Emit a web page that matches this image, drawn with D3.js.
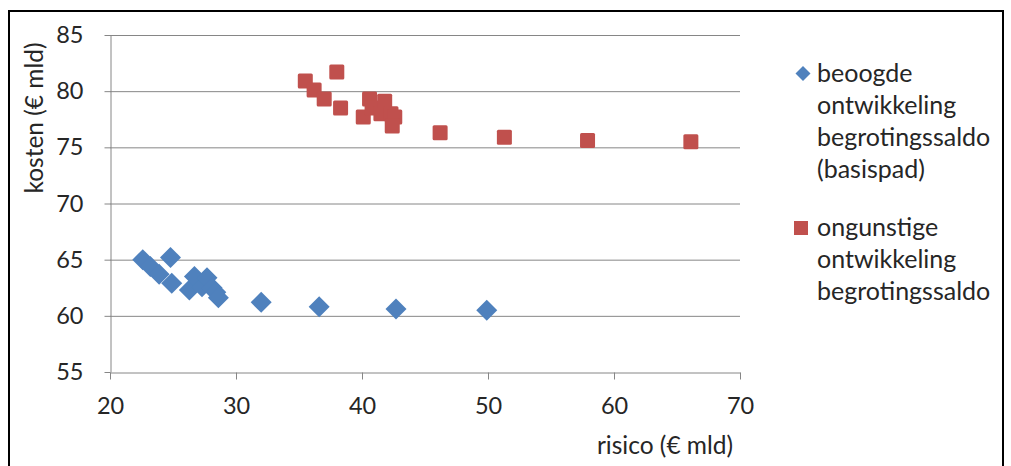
<!DOCTYPE html>
<html>
<head>
<meta charset="utf-8">
<script src="https://cdn.jsdelivr.net/npm/d3@7"></script>
<style>
  html, body { margin: 0; padding: 0; background: #fff; }
  svg { display: block; font-family: Lato, "Open Sans", sans-serif; }
</style>
</head>
<body>
<svg id="chart" width="1011" height="466"></svg>
<script>
// ---- data ----
const seriesNames = [
  ["beoogde", "ontwikkeling", "begrotingssaldo", "(basispad)"],
  ["ongunstige", "ontwikkeling", "begrotingssaldo"]
];
const basisRisico = [22.6, 23.2, 23.9, 24.8, 24.9, 26.3, 26.7, 27.3, 27.7, 28.1, 28.4, 28.6, 32.0, 36.6, 42.7, 49.9];
const basisKosten = [65.0, 64.4, 63.7, 65.2, 62.9, 62.3, 63.5, 62.6, 63.4, 62.5, 62.1, 61.6, 61.2, 60.8, 60.6, 60.5];
const ongunstigRisico = [35.5, 36.2, 37.0, 38.0, 38.3, 40.1, 40.6, 40.8, 41.5, 41.8, 42.3, 42.6, 42.4, 46.2, 51.3, 57.9, 66.1];
const ongunstigKosten = [80.9, 80.1, 79.3, 81.7, 78.5, 77.7, 79.3, 78.5, 78.0, 79.1, 78.0, 77.7, 76.9, 76.3, 75.9, 75.6, 75.5];
const xTicks = [20, 30, 40, 50, 60, 70];
const yTicks = [55, 60, 65, 70, 75, 80, 85];
const xTitle = "risico (€ mld)";
const yTitle = "kosten (€ mld)";

const blue = "#4F81BD", red = "#C0504D", grid = "#868686", txt = "#262626";

const svg = d3.select("#chart");

// outer frame
svg.append("path")
  .attr("d", "M9,470 L9,11 L1003,11 L1003,470")
  .attr("fill", "none").attr("stroke", "#000").attr("stroke-width", 2);

const x = d3.scaleLinear().domain([20, 70]).range([110, 740]);
const y = d3.scaleLinear().domain([55, 85]).range([372, 35]);

// gridlines
svg.append("g").selectAll("line")
  .data(yTicks.filter(d => d !== 55))
  .join("line")
  .attr("x1", x(20)).attr("x2", x(70))
  .attr("y1", d => y(d) + 0.5).attr("y2", d => y(d) + 0.5)
  .attr("stroke", grid).attr("stroke-width", 1);

// y axis
const yAxis = svg.append("g")
  .attr("transform", `translate(${x(20) + 0.5},0)`)
  .call(d3.axisLeft(y).tickValues(yTicks).tickSize(6).tickPadding(21).tickSizeOuter(0));
// x axis
const xAxis = svg.append("g")
  .attr("transform", `translate(0,${y(55) + 0.5})`)
  .call(d3.axisBottom(x).tickValues(xTicks).tickSize(7).tickPadding(18).tickSizeOuter(0));

[yAxis, xAxis].forEach(g => {
  g.select(".domain").attr("stroke", grid);
  g.selectAll(".tick line").attr("stroke", grid);
  g.selectAll(".tick text").attr("fill", txt)
    .style("font-family", "Lato, sans-serif").style("font-size", "23.5px");
});

// axis titles
svg.append("text")
  .attr("x", 665).attr("y", 454)
  .attr("text-anchor", "middle")
  .attr("fill", txt).style("font-size", "24.5px")
  .text(xTitle);
svg.append("text")
  .attr("transform", "translate(43,118) rotate(-90)")
  .attr("text-anchor", "middle")
  .attr("fill", txt).style("font-size", "24.5px")
  .text(yTitle);

// markers
const basis = basisRisico.map((r, i) => ({ r, k: basisKosten[i] }));
const ongunstig = ongunstigRisico.map((r, i) => ({ r, k: ongunstigKosten[i] }));

svg.append("g").selectAll("rect")
  .data(ongunstig).join("rect")
  .attr("x", d => x(d.r) - 7.5).attr("y", d => y(d.k) - 7.5)
  .attr("width", 15).attr("height", 15).attr("rx", 1.5)
  .attr("fill", red);

svg.append("g").selectAll("path")
  .data(basis).join("path")
  .attr("d", d => `M${x(d.r)},${y(d.k) - 10.5} L${x(d.r) + 10.5},${y(d.k)} L${x(d.r)},${y(d.k) + 10.5} L${x(d.r) - 10.5},${y(d.k)} Z`)
  .attr("fill", blue);

// legend
const leg = svg.append("g");
leg.append("path")
  .attr("d", "M803,66 L810.5,73.5 L803,81 L795.5,73.5 Z")
  .attr("fill", blue);
leg.append("rect")
  .attr("x", 794).attr("y", 221).attr("width", 14).attr("height", 14)
  .attr("fill", red);
const lineH = 32;
leg.append("text").attr("fill", txt).style("font-size", "25px")
  .selectAll("tspan").data(seriesNames[0]).join("tspan")
  .attr("x", 817).attr("y", (d, i) => 82 + i * lineH).text(d => d);
leg.append("text").attr("fill", txt).style("font-size", "25px")
  .selectAll("tspan").data(seriesNames[1]).join("tspan")
  .attr("x", 817).attr("y", (d, i) => 236 + i * lineH).text(d => d);
</script>
</body>
</html>
